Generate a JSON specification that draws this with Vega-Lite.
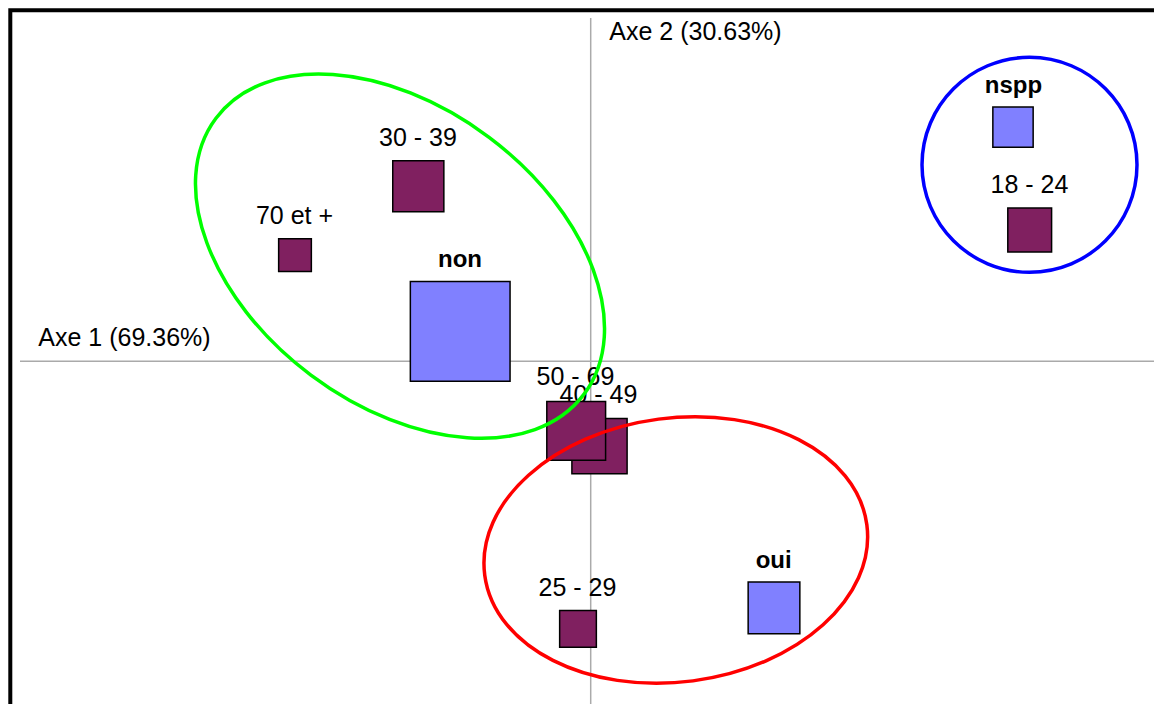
{
  "$schema": "https://vega.github.io/schema/vega-lite/v6.json",
  "width": 1154,
  "height": 704,
  "autosize": {"type": "fit", "contains": "padding"},
  "padding": 0,
  "background": "white",
  "config": {"view": {"stroke": null}, "text": {"font": "Liberation Sans"}},
  "datasets": {
    "points": [
      {"label": "70 et +", "var": "age", "x": -1.4785, "y": 0.5305, "mass": 7.51, "lx": -1.481, "ly": 0.6865},
      {"label": "30 - 39", "var": "age", "x": -0.862, "y": 0.875, "mass": 18.34, "lx": -0.8635, "ly": 1.0765},
      {"label": "18 - 24", "var": "age", "x": 2.195, "y": 0.6565, "mass": 13.47, "lx": 2.194, "ly": 0.8415},
      {"label": "25 - 29", "var": "age", "x": -0.0635, "y": -1.3375, "mass": 9.46, "lx": -0.066, "ly": -1.1735},
      {"label": "40 - 49", "var": "age", "x": 0.044, "y": -0.4245, "mass": 21.4, "lx": 0.039, "ly": -0.21},
      {"label": "50 - 69", "var": "age", "x": -0.0725, "y": -0.3475, "mass": 24.28, "lx": -0.076, "ly": -0.1185},
      {"label": "non", "var": "avis", "x": -0.6525, "y": 0.15, "mass": 69.82, "lx": -0.6535, "ly": 0.473},
      {"label": "oui", "var": "avis", "x": 0.9165, "y": -1.2325, "mass": 18.77, "lx": 0.915, "ly": -1.032},
      {"label": "nspp", "var": "avis", "x": 2.1115, "y": 1.1705, "mass": 11.41, "lx": 2.114, "ly": 1.34}
    ],
    "frame": [{"x": -2.902, "x2": 4, "y": 1.755, "y2": -3}],
    "axes": [
      {"x": 0, "x2": 0, "y": 1.7165, "y2": -2.5},
      {"x": -2.8535, "x2": 3.5, "y": 0, "y2": 0}
    ],
    "axisTitles": [
      {"x": 0.093, "y": 1.6065, "text": "Axe 2 (30.63%)"},
      {"x": -2.762, "y": 0.0765, "text": "Axe 1 (69.36%)"}
    ],
    "green": [{"group": "non", "x": -0.9535, "y": 0.5255}],
    "red": [{"group": "oui", "x": 0.4255, "y": -0.9435}],
    "blue": [{"group": "nspp", "x": 2.194, "y": 0.9825}]
  },
  "layer": [
    {
      "data": {"name": "axes"},
      "mark": {"type": "rule", "stroke": "#aaaaaa", "strokeWidth": 1.5, "clip": true},
      "encoding": {
        "x": {"field": "x", "type": "quantitative", "axis": null, "scale": {"domain": [-2.9535, 2.8165], "nice": false, "zero": false}},
        "x2": {"field": "x2"},
        "y": {"field": "y", "type": "quantitative", "axis": null, "scale": {"domain": [-1.7135, 1.8065], "nice": false, "zero": false}},
        "y2": {"field": "y2"}
      }
    },
    {
      "data": {"name": "frame"},
      "mark": {"type": "rect", "fillOpacity": 0, "fill": "white", "stroke": "black", "strokeWidth": 4, "clip": true},
      "encoding": {
        "x": {"field": "x", "type": "quantitative"},
        "x2": {"field": "x2"},
        "y": {"field": "y", "type": "quantitative"},
        "y2": {"field": "y2"}
      }
    },
    {
      "data": {"name": "axisTitles"},
      "mark": {"type": "text", "align": "left", "baseline": "alphabetic", "fontSize": 25, "color": "black"},
      "encoding": {
        "x": {"field": "x", "type": "quantitative"},
        "y": {"field": "y", "type": "quantitative"},
        "text": {"field": "text"}
      }
    },
    {
      "data": {"name": "points"},
      "transform": [{"filter": "datum.var === 'age'"}],
      "mark": {"type": "text", "align": "center", "baseline": "alphabetic", "fontSize": 25, "color": "black"},
      "encoding": {
        "x": {"field": "lx", "type": "quantitative"},
        "y": {"field": "ly", "type": "quantitative"},
        "text": {"field": "label"}
      }
    },
    {
      "data": {"name": "points"},
      "transform": [{"filter": "datum.var === 'avis'"}],
      "mark": {"type": "text", "align": "center", "baseline": "alphabetic", "fontSize": 24, "fontWeight": "bold", "color": "black"},
      "encoding": {
        "x": {"field": "lx", "type": "quantitative"},
        "y": {"field": "ly", "type": "quantitative"},
        "text": {"field": "label"}
      }
    },
    {
      "data": {"name": "points"},
      "mark": {"type": "square", "filled": true, "opacity": 1, "stroke": "black", "strokeWidth": 1.5},
      "encoding": {
        "x": {"field": "x", "type": "quantitative"},
        "y": {"field": "y", "type": "quantitative"},
        "size": {"field": "mass", "type": "quantitative", "legend": null, "scale": {"type": "linear", "domain": [0, 100], "range": [0, 14237]}},
        "color": {"field": "var", "type": "nominal", "legend": null, "scale": {"domain": ["age", "avis"], "range": ["#802060", "#8080ff"]}}
      }
    },
    {
      "data": {"name": "green"},
      "mark": {"type": "point", "filled": false, "opacity": 1, "stroke": "#00ff00", "strokeWidth": 3.5, "size": 211600, "angle": 36.85,
        "shape": "M 1 0 C 1 0.3568 0.5523 0.646 0 0.646 C -0.5523 0.646 -1 0.3568 -1 0 C -1 -0.3568 -0.5523 -0.646 0 -0.646 C 0.5523 -0.646 1 -0.3568 1 0 Z"},
      "encoding": {
        "x": {"field": "x", "type": "quantitative"},
        "y": {"field": "y", "type": "quantitative"}
      }
    },
    {
      "data": {"name": "red"},
      "mark": {"type": "point", "filled": false, "opacity": 1, "stroke": "#ff0000", "strokeWidth": 3.5, "size": 148533, "angle": -7.5,
        "shape": "M 1 0 C 1 0.3783 0.5523 0.685 0 0.685 C -0.5523 0.685 -1 0.3783 -1 0 C -1 -0.3783 -0.5523 -0.685 0 -0.685 C 0.5523 -0.685 1 -0.3783 1 0 Z"},
      "encoding": {
        "x": {"field": "x", "type": "quantitative"},
        "y": {"field": "y", "type": "quantitative"}
      }
    },
    {
      "data": {"name": "blue"},
      "mark": {"type": "point", "filled": false, "opacity": 1, "stroke": "#0000ff", "strokeWidth": 3.5, "size": 46225,
        "shape": "M 1 0 C 1 0.5523 0.5523 1 0 1 C -0.5523 1 -1 0.5523 -1 0 C -1 -0.5523 -0.5523 -1 0 -1 C 0.5523 -1 1 -0.5523 1 0 Z"},
      "encoding": {
        "x": {"field": "x", "type": "quantitative"},
        "y": {"field": "y", "type": "quantitative"}
      }
    }
  ]
}
